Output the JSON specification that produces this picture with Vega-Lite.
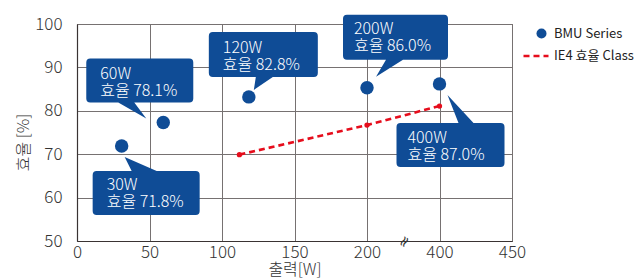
{
  "$schema": "https://vega.github.io/schema/vega-lite/v6.json",
  "autosize": "none",
  "width": 435,
  "height": 217,
  "padding": {"left": 77, "top": 24, "right": 129, "bottom": 39},
  "background": "white",
  "config": {
    "font": "Noto Sans CJK KR",
    "view": {"stroke": "#5b5555", "strokeWidth": 1},
    "axis": {
      "grid": true,
      "gridColor": "#767171",
      "gridWidth": 1,
      "gridOpacity": 1,
      "domainColor": "#3a3333",
      "domainWidth": 1.2,
      "ticks": false,
      "labelFont": "Noto Sans CJK KR",
      "labelFontWeight": 300,
      "labelFontSize": 17,
      "labelColor": "#333333",
      "labelFlush": false,
      "labelOverlap": false,
      "titleFont": "Noto Sans CJK KR",
      "titleFontWeight": 300,
      "titleFontSize": 16,
      "titleColor": "#333333"
    },
    "legend": {
      "orient": "right",
      "offset": 10,
      "labelFont": "Noto Sans CJK KR",
      "labelFontSize": 13,
      "labelColor": "#222222",
      "symbolOpacity": 1
    }
  },
  "datasets": {
    "bmu": [
      {"id": "30W", "watt": 30.8, "eff": 71.9, "text": "30W\n효율 71.8%"},
      {"id": "60W", "watt": 59.5, "eff": 77.3, "text": "60W\n효율 78.1%"},
      {"id": "120W", "watt": 118.5, "eff": 83.2, "text": "120W\n효율 82.8%"},
      {"id": "200W", "watt": 200, "eff": 85.3, "text": "200W\n효율 86.0%"},
      {"id": "400W", "watt": 400, "eff": 86.2, "text": "400W\n효율 87.0%"}
    ],
    "ie4": [
      {"watt": 112, "eff": 69.9},
      {"watt": 200, "eff": 76.7},
      {"watt": 400, "eff": 81.1}
    ],
    "brk": [{"watt": 300, "eff": 50, "sym": "≈"}]
  },
  "layer": [
    {
      "data": {"name": "bmu"},
      "mark": {"type": "point", "filled": true, "size": 180, "opacity": 1},
      "encoding": {
        "x": {
          "field": "watt", "type": "quantitative",
          "scale": {"domain": [0, 200, 400, 450], "range": [0, 290, 362.5, 435]},
          "axis": {"values": [0, 50, 100, 150, 200, 400, 450], "title": "출력[W]", "labelPadding": 3, "titlePadding": 1}
        },
        "y": {
          "field": "eff", "type": "quantitative",
          "scale": {"domain": [50, 100], "nice": false, "zero": false},
          "axis": {"values": [50, 60, 70, 80, 90, 100], "title": "효율 [%]", "labelPadding": 15, "titlePadding": 3, "titleY": 118}
        },
        "color": {
          "datum": "BMU Series",
          "scale": {"range": ["#0f4c96"]},
          "legend": {"title": null, "symbolType": "circle", "symbolSize": 100, "labelOffset": 6, "padding": 3, "offset": 7}
        }
      }
    },
    {
      "data": {"name": "ie4"},
      "mark": {"type": "line", "color": "#e60d1c", "strokeWidth": 2.6},
      "encoding": {
        "x": {"field": "watt", "type": "quantitative"},
        "y": {"field": "eff", "type": "quantitative"},
        "strokeDash": {
          "datum": "IE4 효율 Class",
          "scale": {"range": [[6, 4]]},
          "legend": {"title": null, "symbolType": "stroke", "symbolStrokeColor": "#e60d1c", "symbolStrokeWidth": 2.6, "symbolSize": 625, "labelOffset": 4, "padding": -10, "offset": 20}
        }
      }
    },
    {
      "data": {"name": "ie4"},
      "mark": {"type": "point", "filled": true, "size": 28, "color": "#e60d1c", "opacity": 1},
      "encoding": {
        "x": {"field": "watt", "type": "quantitative"},
        "y": {"field": "eff", "type": "quantitative"}
      }
    },
    {
      "data": {"name": "bmu"},
      "mark": {"type": "point", "filled": true, "size": 4, "color": "#0f4c96", "opacity": 1, "strokeWidth": 0},
      "encoding": {
        "x": {"field": "watt", "type": "quantitative"},
        "y": {"field": "eff", "type": "quantitative"},
        "shape": {
          "field": "id", "type": "nominal", "legend": null,
          "scale": {
            "domain": ["30W", "60W", "120W", "200W", "400W"],
            "range": [
              "M -25 25 L 10 25 L 3 11 L 35 25 L 74 25 Q 78 25 78 29 L 78 65 Q 78 69 74 69 L -25 69 Q -29 69 -29 65 L -29 29 Q -29 25 -25 25 Z",
              "M -73 -64 L 26 -64 Q 30 -64 30 -60 L 30 -24 Q 30 -20 26 -20 L -29 -20 L -17 -4 L -45 -20 L -73 -20 Q -77 -20 -77 -24 L -77 -60 Q -77 -64 -73 -64 Z",
              "M -36 -65 L 65 -65 Q 69 -65 69 -61 L 69 -24 Q 69 -20 65 -20 L 24 -20 L 5 -7 L 7 -20 L -36 -20 Q -40 -20 -40 -24 L -40 -61 Q -40 -65 -36 -65 Z",
              "M -20 -73 L 77 -73 Q 81 -73 81 -69 L 81 -32 Q 81 -28 77 -28 L 36 -28 L 9 -11 L 19 -28 L -20 -28 Q -24 -28 -24 -32 L -24 -69 Q -24 -73 -20 -73 Z",
              "M -39 39 L 19 39 L 8 11 L 34 39 L 61 39 Q 65 39 65 43 L 65 79 Q 65 83 61 83 L -39 83 Q -43 83 -43 79 L -43 43 Q -43 39 -39 39 Z"
            ]
          }
        }
      }
    },
    {
      "data": {"name": "bmu"},
      "transform": [{"filter": "datum.id === '30W'"}],
      "mark": {"type": "text", "color": "white", "fontSize": 16, "fontWeight": 300, "align": "left", "baseline": "alphabetic", "lineBreak": "\n", "lineHeight": 17, "dx": -15, "dy": 44},
      "encoding": {"x": {"field": "watt", "type": "quantitative"}, "y": {"field": "eff", "type": "quantitative"}, "text": {"field": "text"}}
    },
    {
      "data": {"name": "bmu"},
      "transform": [{"filter": "datum.id === '60W'"}],
      "mark": {"type": "text", "color": "white", "fontSize": 16, "fontWeight": 300, "align": "left", "baseline": "alphabetic", "lineBreak": "\n", "lineHeight": 17, "dx": -63, "dy": -44},
      "encoding": {"x": {"field": "watt", "type": "quantitative"}, "y": {"field": "eff", "type": "quantitative"}, "text": {"field": "text"}}
    },
    {
      "data": {"name": "bmu"},
      "transform": [{"filter": "datum.id === '120W'"}],
      "mark": {"type": "text", "color": "white", "fontSize": 16, "fontWeight": 300, "align": "left", "baseline": "alphabetic", "lineBreak": "\n", "lineHeight": 17, "dx": -26, "dy": -44},
      "encoding": {"x": {"field": "watt", "type": "quantitative"}, "y": {"field": "eff", "type": "quantitative"}, "text": {"field": "text"}}
    },
    {
      "data": {"name": "bmu"},
      "transform": [{"filter": "datum.id === '200W'"}],
      "mark": {"type": "text", "color": "white", "fontSize": 16, "fontWeight": 300, "align": "left", "baseline": "alphabetic", "lineBreak": "\n", "lineHeight": 17, "dx": -13, "dy": -54},
      "encoding": {"x": {"field": "watt", "type": "quantitative"}, "y": {"field": "eff", "type": "quantitative"}, "text": {"field": "text"}}
    },
    {
      "data": {"name": "bmu"},
      "transform": [{"filter": "datum.id === '400W'"}],
      "mark": {"type": "text", "color": "white", "fontSize": 16, "fontWeight": 300, "align": "left", "baseline": "alphabetic", "lineBreak": "\n", "lineHeight": 17, "dx": -32, "dy": 59},
      "encoding": {"x": {"field": "watt", "type": "quantitative"}, "y": {"field": "eff", "type": "quantitative"}, "text": {"field": "text"}}
    },
    {
      "data": {"name": "brk"},
      "mark": {"type": "text", "color": "#333333", "font": "DejaVu Sans", "fontSize": 15, "angle": 300, "align": "center", "baseline": "middle", "dy": 1},
      "encoding": {"x": {"field": "watt", "type": "quantitative"}, "y": {"field": "eff", "type": "quantitative"}, "text": {"field": "sym"}}
    }
  ]
}
